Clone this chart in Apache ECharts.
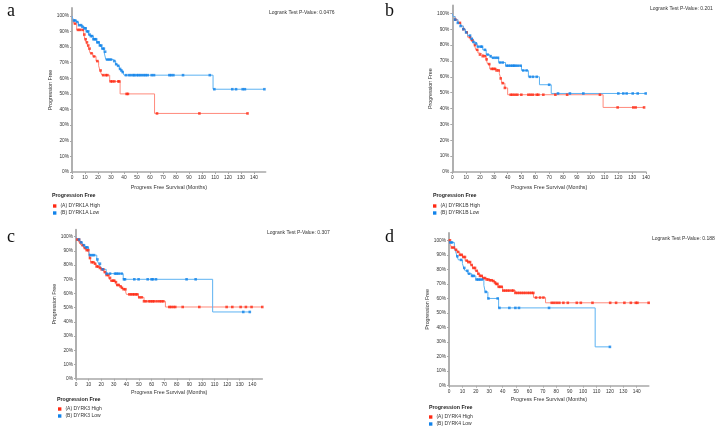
<!DOCTYPE html>
<html><head><meta charset="utf-8">
<script src="https://cdn.jsdelivr.net/npm/echarts@6/dist/echarts.min.js"></script>
<style>html,body{margin:0;padding:0;background:#fff}#c{width:719px;height:433px}</style>
</head><body><div id="c"></div>
<script>
// ---------- DATA ----------
const xTicks = [0,10,20,30,40,50,60,70,80,90,100,110,120,130,140];
const yTicks = [0,10,20,30,40,50,60,70,80,90,100];
const panelLetters = ['a','b','c','d'];
const pValues = ['Logrank Test P-Value: 0.0476','Logrank Test P-Value: 0.201','Logrank Test P-Value: 0.307','Logrank Test P-Value: 0.188'];
const highNames = ['(A) DYRK1A High','(A) DYRK1B High','(A) DYRK3 High','(A) DYRK4 High'];
const lowNames  = ['(B) DYRK1A Low','(B) DYRK1B Low','(B) DYRK3 Low','(B) DYRK4 Low'];

// Panel a
const aHighT = [0,1.5,3.6,9,10,11,12,13,14,16,18.5,20.5,21.5,23,29,37,63.5,135];
const aHighS = [100,95,91,88,85,83,81,79,76,74,71,68,65,62,58,50,37.5,37.5];
const aHighC = [2.3,4.6,6.1,8.2,9.5,10.5,11.5,12.5,13.5,15,17,19.5,22,24,26,27.2,29.8,31,32.6,35.6,36.4,42,43,65.4,98,135];
const aLowT = [0,1,3,5,7.4,9.2,10.8,12.6,13.8,16.4,19,21,22.8,24.6,25.6,26,32,33.6,35,36.4,37.5,38.5,40,108.5,148];
const aLowS = [100,97,96,94,93,92,90,88,87,85,83,81,79,77,76,72,71,69,68,66,65,64,62,53,53];
const aLowC = [1.5,2.5,4,5.5,7,8,9.5,10.5,11.5,12.5,13.5,14.5,15.5,16.5,17.5,18.5,19.5,20.5,21.5,22.5,23.5,24.5,25.5,27,28.5,30,32.5,34,35.5,37,38,39,41.5,43.8,45.4,47.2,48,49.7,51,52.3,53.8,55.4,56.7,58.2,61.3,63.1,74.9,76.2,78,85.4,106,109.5,123.3,126.2,131.3,133,148];
// Panel b
const bHighT = [0,0.5,2,4,6,8,9.5,11,13,15,16,17,18.5,20,22,24.5,25.5,27,32,34,35,36,38,40,109,138.6];
const bHighS = [100,98,96,94,92,90,88,85,83,82,80,77,75,74,73,71,68,65,64,62,59,56,53,48.7,40.7,40.7];
const bHighC = [2.2,5.5,8,10.4,12.8,14.5,16.4,18,20,22,23.6,24.8,26.7,28.4,29.6,30.8,32,33.5,35,36.4,38,42.2,43.6,45.3,47,49.9,55,56.6,58.3,61,62.2,65.8,74.5,83,106.7,119.5,130.8,132.5,138.6];
const bLowT = [0,0.5,2,4,6,8,9.5,11,13,15,16.5,18,22,24.5,27,28,33.5,38.5,50,55,63,71.5,139.8];
const bLowS = [100,98,96,94,92,90,88,86,84,82,81,79,77,74,73,72,69,67,64,60,55,49.5,49.5];
const bLowC = [2,4,6,8,10,12.8,14,15.2,17,18.6,20.5,21.4,23.6,25.5,27.7,29.6,31.3,33,34.5,36.4,39.3,40.7,42.2,43.6,44.6,45.8,47.5,49.4,51.3,53.7,56.1,58.3,61,70,76.4,85,94.7,120,123.6,126,130.4,134,139.8];
// Panel c
const cHighT = [0,1,2.5,4,6,8,10,11,12,14,16,18,20,22,24,26,27.5,31,32,34,36,37.5,39.5,40,49.5,54,71,148];
const cHighS = [100,98,96,94,92,90.5,88,85,82,81,79,78,77,75,73,71,69,68,66,65,64,63,61,59.4,57.3,54.5,50.5,50.5];
const cHighC = [1.1,2.4,3.7,5.3,7.1,8.5,9.8,11.1,12.4,13.8,15.1,16.4,17.7,19,20.4,21.7,23,24.3,25.7,27,28.3,29.6,30.4,31.7,32.8,33.9,35.4,36.5,37.8,39.2,42.3,43.7,45,46.3,47.6,48.7,50.3,52.1,54,55.6,57.9,59.3,60.8,61.9,64,66.1,67.7,69.3,74.1,75.4,77.2,78.8,84.7,97.9,119.6,124.1,130.7,134.9,139.4,147.9];
const cLowT = [0,1,3,5,7,10,11,16.5,18,19.5,21,24,37.5,108.5,138];
const cLowS = [100,98,96,94,92.5,90,87,84,81,79,77,74,70,47,47];
const cLowC = [2.4,4.2,6.3,8,9,11,12.7,14.3,17,19,21.2,24.3,27,31,32.3,33.9,36.2,38.1,38.9,46.3,49.7,56.9,60,61.1,63.5,87.8,95,132.8,138];
// Panel d
const dHighT = [0,1,2,4,6,8,10,12,14,16,17.5,19.5,21.5,23,25,27,30,32,34,35,36.5,40,49.5,63,72,148.9];
const dHighS = [100,97,95,93.5,92,90,88.5,86,85,83,81,79,77,75.5,74,73,72.5,72,71,70,68,65.4,63.8,60.6,57,57];
const dHighC = [0.7,2.2,3.7,5.2,6.7,8.2,9.5,10.7,11.9,13.2,14.4,15.7,16.9,18.2,19.4,20.6,21.9,23.1,24.4,25.6,26.9,28.1,29.4,30.6,31.8,33.1,34.3,35.1,36.1,37.1,38.1,39.3,40.5,42,43.5,45,46.8,48,49.5,51,52.5,54,55.5,57,58.7,60.2,61.7,62.9,64.9,67.9,70.4,76.6,78.4,80.3,82.3,85.3,88.6,95.3,98.3,107,120.2,124.6,130.8,135.6,139.3,140.5,148.9];
const dLowT = [0,0.5,4,5,6,7,10,11,12,14,17,20,26,27,29,37,109,120];
const dLowS = [100,98.5,95,92,89,86.5,84,81,79,77,75.5,73,69,64.5,60,53.5,26.7,26.7];
const dLowC = [1,2.2,6.2,9,11.4,13.7,15,17.2,18.4,20.6,21.9,23.1,24.6,27.4,29.4,36.3,37.6,45,49.5,52.2,74.6,120];

// ---------- LAYOUT / STYLE ----------
const panels = [
  {high:[aHighT,aHighS,aHighC], low:[aLowT,aLowS,aLowC], grid:{left:72,top:8,width:193.7,height:164}, xMax:149, xGap:13,
   letter:[7,11], pv:[269,13], head:[52,196], leg:[53,202.5]},
  {high:[bHighT,bHighS,bHighC], low:[bLowT,bLowS,bLowC], grid:{left:452.3,top:5.4,width:193.7,height:166.6}, xMax:140, xGap:13,
   letter:[385,11], pv:[650,9.5], head:[433,196], leg:[433,202.5]},
  {high:[cHighT,cHighS,cHighC], low:[cLowT,cLowS,cLowC], grid:{left:76,top:229.6,width:186.4,height:149.1}, xMax:148, xGap:11,
   letter:[7,237], pv:[267,233], head:[57,400], leg:[58,405.5]},
  {high:[dHighT,dHighS,dHighC], low:[dLowT,dLowS,dLowC], grid:{left:449,top:233,width:199.8,height:152.7}, xMax:149, xGap:11,
   letter:[385,237], pv:[652,239.5], head:[429,408], leg:[429,413.5]}
];
const RED='#ff2a14', RED_LINE='#ff8a7c', BLUE='#1283ea', BLUE_LINE='#5cb2f2';
const FONT='Liberation Sans, Arial, sans-serif';
const AX='#a8a8a8';

function valueAt(T,S,t){let v=S[0];for(let i=0;i<T.length;i++){if(T[i]<=t)v=S[i];}return v;}

const option = {animation:false, grid:[], xAxis:[], yAxis:[], series:[], legend:[], graphic:[]};
panels.forEach((p,i)=>{
  option.grid.push(Object.assign({containLabel:false},p.grid));
  option.xAxis.push({type:'value',gridIndex:i,min:0,max:p.xMax,
    name:'Progress Free Survival (Months)',nameLocation:'middle',nameGap:p.xGap,
    nameTextStyle:{fontSize:5.3,color:'#333',fontFamily:FONT},
    axisLine:{show:true,lineStyle:{color:AX,width:1.5}},
    axisTick:{show:true,length:2,customValues:xTicks,lineStyle:{color:AX}},
    axisLabel:{customValues:xTicks,fontSize:4.8,color:'#333',margin:3,fontFamily:FONT},
    splitLine:{show:false}});
  option.yAxis.push({type:'value',gridIndex:i,min:0,max:105,
    name:'Progression Free',nameLocation:'middle',nameGap:15,nameRotate:90,
    nameTextStyle:{fontSize:5.3,color:'#333',fontFamily:FONT},
    axisLine:{show:true,lineStyle:{color:AX,width:1.8}},
    axisTick:{show:true,length:2,customValues:yTicks,lineStyle:{color:AX}},
    axisLabel:{customValues:yTicks,formatter:'{value}%',fontSize:4.8,color:'#333',margin:3,fontFamily:FONT},
    splitLine:{show:false}});
  const groups=[[p.high,highNames[i],RED,RED_LINE],[p.low,lowNames[i],BLUE,BLUE_LINE]];
  groups.forEach(([g,name,col,lcol])=>{
    const [T,S,C]=g;
    option.series.push({type:'line',name:name,xAxisIndex:i,yAxisIndex:i,step:'end',
      data:T.map((t,k)=>[t,S[k]]),showSymbol:false,symbol:'rect',
      itemStyle:{color:col},lineStyle:{color:lcol,width:1},z:2});
    option.series.push({type:'scatter',name:name,xAxisIndex:i,yAxisIndex:i,
      data:C.map(t=>[t,valueAt(T,S,t)]),symbol:'rect',symbolSize:2.6,
      itemStyle:{color:col},z:3});
  });
  option.legend.push({orient:'vertical',left:p.leg[0],top:p.leg[1],padding:0,itemGap:0,
    itemWidth:3.4,itemHeight:3.4,icon:'rect',data:[highNames[i],lowNames[i]],
    textStyle:{fontSize:5,lineHeight:7,color:'#333',fontFamily:FONT,padding:[0,0,0,-1]}});
  option.graphic.push({type:'text',left:p.letter[0],top:p.letter[1]-9,
    style:{text:panelLetters[i],font:'18px "Liberation Serif", "DejaVu Serif", serif',fill:'#111'}});
  option.graphic.push({type:'text',left:p.pv[0],top:p.pv[1]-3,
    style:{text:pValues[i],font:'5px '+FONT,fill:'#333'}});
  option.graphic.push({type:'text',left:p.head[0],top:p.head[1]-3,
    style:{text:'Progression Free',font:'bold 5.3px '+FONT,fill:'#222'}});
});
const chart = echarts.init(document.getElementById('c'),null,{renderer:'canvas'});
chart.setOption(option);
</script></body></html>
